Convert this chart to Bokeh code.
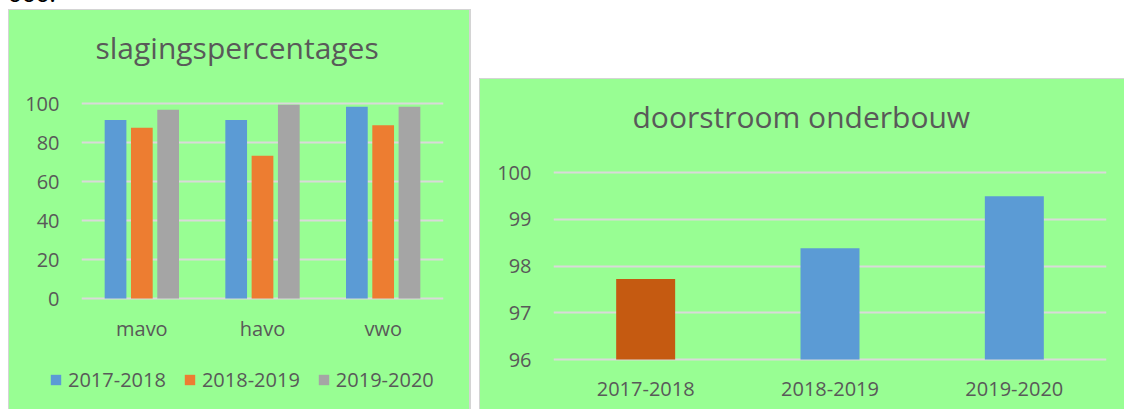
from bokeh.plotting import figure
from bokeh.models import (FactorRange, Range1d, Legend, LegendItem, Div,
                          ColumnDataSource, FixedTicker, Title)
from bokeh.layouts import row, column
from bokeh.transform import dodge
from bokeh.embed import file_html
from bokeh.resources import INLINE

# ---------------- data ----------------
levels = ["mavo", "havo", "vwo"]
years = ["2017-2018", "2018-2019", "2019-2020"]
pass_2017_2018 = [91.5, 91.5, 98.3]
pass_2018_2019 = [87.6, 73.2, 88.9]
pass_2019_2020 = [96.8, 99.3, 98.3]
pct_ticks = [0, 20, 40, 60, 80, 100]

flow_years = ["2017-2018", "2018-2019", "2019-2020"]
flow_values = [97.72, 98.38, 99.49]
flow_ticks = [96, 97, 98, 99, 100]

# ---------------- style ----------------
GREEN = "#98FE93"
GRID = "#D9D9D9"
TXT = "#595959"
EDGE = "1px solid #D4D4D4"
EDGE2 = "2px solid #D4D4D4"
FONT = "Open Sans"
series_colors = ["#5B9BD5", "#ED7D31", "#A5A5A5"]
flow_colors = ["#C55A11", "#5B9BD5", "#5B9BD5"]
offsets = [-0.218, 0.0, 0.218]
series_cols = ["a", "b", "c"]
EDGE_PX = 2  # extra pixels of plot area so the end grid lines are not clipped


def style_axes(p, ticks, xstand):
    p.yaxis.ticker = FixedTicker(ticks=ticks)
    for ax in (p.xaxis[0], p.yaxis[0]):
        ax.axis_line_color = None
        ax.major_tick_line_color = None
        ax.minor_tick_line_color = None
        ax.major_tick_in = 0
        ax.major_tick_out = 0
        ax.major_label_text_font = FONT
        ax.major_label_text_font_size = "20px"
        ax.major_label_text_color = TXT
    p.yaxis.major_label_standoff = 22
    p.xaxis.major_label_standoff = xstand
    p.xgrid.grid_line_color = None
    p.ygrid.grid_line_color = GRID
    p.ygrid.grid_line_width = 2


def add_title(p, text, offset):
    # spacer (closest to the frame) then the visible title
    p.add_layout(Title(text=" ", text_font_size="1px", standoff=31), "above")
    p.add_layout(Title(text=text, text_font=FONT, text_font_size="30px",
                       text_font_style="normal", text_color=TXT,
                       align="left", offset=offset, standoff=0), "above")


def box_style(**edges):
    st = {"background-color": GREEN}
    st.update({k.replace("_", "-"): v for k, v in edges.items()})
    return st


def padded_range(lo, hi, span_px):
    pad = (hi - lo) / span_px * EDGE_PX
    return Range1d(lo - pad, hi + pad)


common = dict(output_backend="svg", toolbar_location=None,
              background_fill_color=None, border_fill_color=None,
              outline_line_color=None, frame_align=False)

# ---------------- left chart ----------------
src = ColumnDataSource(dict(level=levels, a=pass_2017_2018,
                            b=pass_2018_2019, c=pass_2019_2020))
p1 = figure(x_range=FactorRange(*levels, range_padding=0),
            y_range=padded_range(pct_ticks[0], pct_ticks[-1], 195),
            width=463, height=340,
            min_border_left=72, min_border_right=29,
            min_border_top=93 - EDGE_PX, min_border_bottom=52 - EDGE_PX,
            title=None,
            styles=box_style(border_top=EDGE, border_left=EDGE, border_right=EDGE2),
            **common)
for col, off, colr in zip(series_cols, offsets, series_colors):
    p1.vbar(x=dodge("level", off, range=p1.x_range), top=col, bottom=0,
            width=0.18, source=src, fill_color=colr, line_color=None)
style_axes(p1, pct_ticks, 16 - EDGE_PX)
add_title(p1, "slagingspercentages", 14)

# legend strip (bottom of the same green chart box)
pl = figure(x_range=FactorRange(*levels, range_padding=0),
            y_range=Range1d(1000, 1001),
            width=463, height=60,
            min_border_left=0, min_border_right=0,
            min_border_top=0, min_border_bottom=0,
            x_axis_location=None, y_axis_location=None,
            styles=box_style(border_left=EDGE, border_right=EDGE2),
            **common)
pl.grid.visible = False
legend_renderers = []
for col, off, colr in zip(series_cols, offsets, series_colors):
    r = pl.vbar(x=dodge("level", off, range=pl.x_range), top=col, bottom=0,
                width=0.18, source=src, fill_color=colr, line_color=None)
    legend_renderers.append(r)
legend = Legend(items=[LegendItem(label=y, renderers=[r])
                       for y, r in zip(years, legend_renderers)],
                orientation="horizontal", location=(40, 16),
                glyph_width=13, glyph_height=13, label_standoff=6, spacing=17,
                padding=0, margin=0, background_fill_alpha=0,
                border_line_color=None, label_text_font=FONT,
                label_text_font_size="20px", label_text_color=TXT)
pl.add_layout(legend)

# ---------------- right chart ----------------
src2 = ColumnDataSource(dict(year=flow_years, v=flow_values, col=flow_colors))
p2 = figure(x_range=FactorRange(*flow_years, range_padding=0),
            y_range=padded_range(flow_ticks[0], flow_ticks[-1], 187),
            width=645, height=331,
            min_border_left=73, min_border_right=19,
            min_border_top=93 - EDGE_PX, min_border_bottom=51 - EDGE_PX,
            title=None,
            margin=(78, 0, 0, 8),
            styles=box_style(border_top=EDGE, border_left=EDGE),
            **common)
p2.vbar(x="year", top="v", bottom=flow_ticks[0], width=0.32, source=src2,
        fill_color="col", line_color=None)
style_axes(p2, flow_ticks, 22 - EDGE_PX)
add_title(p2, "doorstroom onderbouw", 79)

# ---------------- fragment of text above ----------------
frag = Div(text='<div style="font-family:Lato;font-size:24px;line-height:24px;'
                'color:#000;position:relative;top:-19px;white-space:nowrap">000.</div>',
           width=120, height=9, margin=(0, 0, 0, 0),
           styles={"overflow": "hidden"})

left = column(frag, p1, pl, margin=(0, 0, 0, 8), spacing=0)
root = row(left, p2, spacing=0)

open("out.html", "w").write(file_html(root, INLINE))
